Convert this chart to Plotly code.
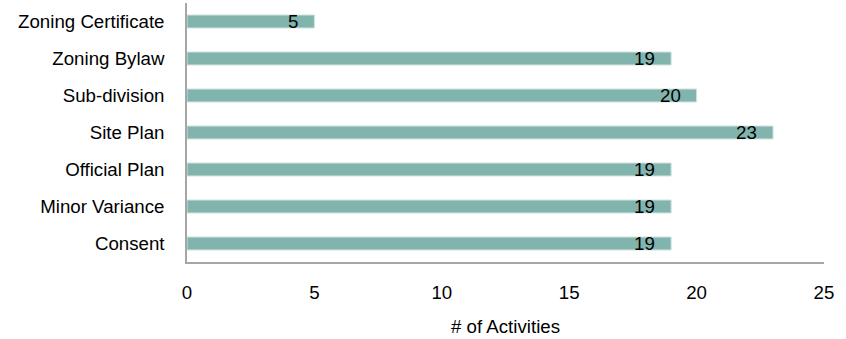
import plotly.graph_objects as go

categories = ["Consent", "Minor Variance", "Official Plan", "Site Plan",
              "Sub-division", "Zoning Bylaw", "Zoning Certificate"]
activities = [19, 19, 19, 23, 20, 19, 5]
x_ticks = [0, 5, 10, 15, 20, 25]

FONT = "Liberation Sans, Arial, sans-serif"
FS = 18.7

fig = go.Figure()
fig.add_trace(go.Bar(
    y=categories, x=activities, orientation="h",
    marker=dict(color="#82B4AE", line=dict(color="#CFE2DF", width=1)),
    width=0.35, hoverinfo="skip",
))

for c, v in zip(categories, activities):
    fig.add_annotation(x=v, y=c, text=str(v), showarrow=False,
                       xanchor="right", xshift=-14, yshift=0,
                       font=dict(family=FONT, size=FS, color="#000000"))

fig.update_layout(
    width=846, height=339,
    margin=dict(l=187, r=22, t=3, b=77),
    paper_bgcolor="white", plot_bgcolor="white",
    showlegend=False,
    font=dict(family=FONT, size=FS, color="#000000"),
    bargap=0.65,
)
fig.update_xaxes(
    range=[0, 25], tickvals=x_ticks, showgrid=False, zeroline=False,
    showline=True, linecolor="#A6A6A6", linewidth=1.5,
    ticks="outside", ticklen=13, tickcolor="rgba(0,0,0,0)",
    tickfont=dict(family=FONT, size=FS, color="#000000"),
    title=dict(text="# of Activities", standoff=18,
               font=dict(family=FONT, size=FS, color="#000000")),
    fixedrange=True,
)
fig.update_yaxes(
    categoryorder="array", categoryarray=categories,
    showgrid=False, zeroline=False,
    showline=True, linecolor="#A6A6A6", linewidth=1.5,
    ticks="outside", ticklen=17, tickcolor="rgba(0,0,0,0)",
    tickfont=dict(family=FONT, size=FS, color="#000000"),
    fixedrange=True,
)

fig.write_html("out.html", config={"displayModeBar": False})
